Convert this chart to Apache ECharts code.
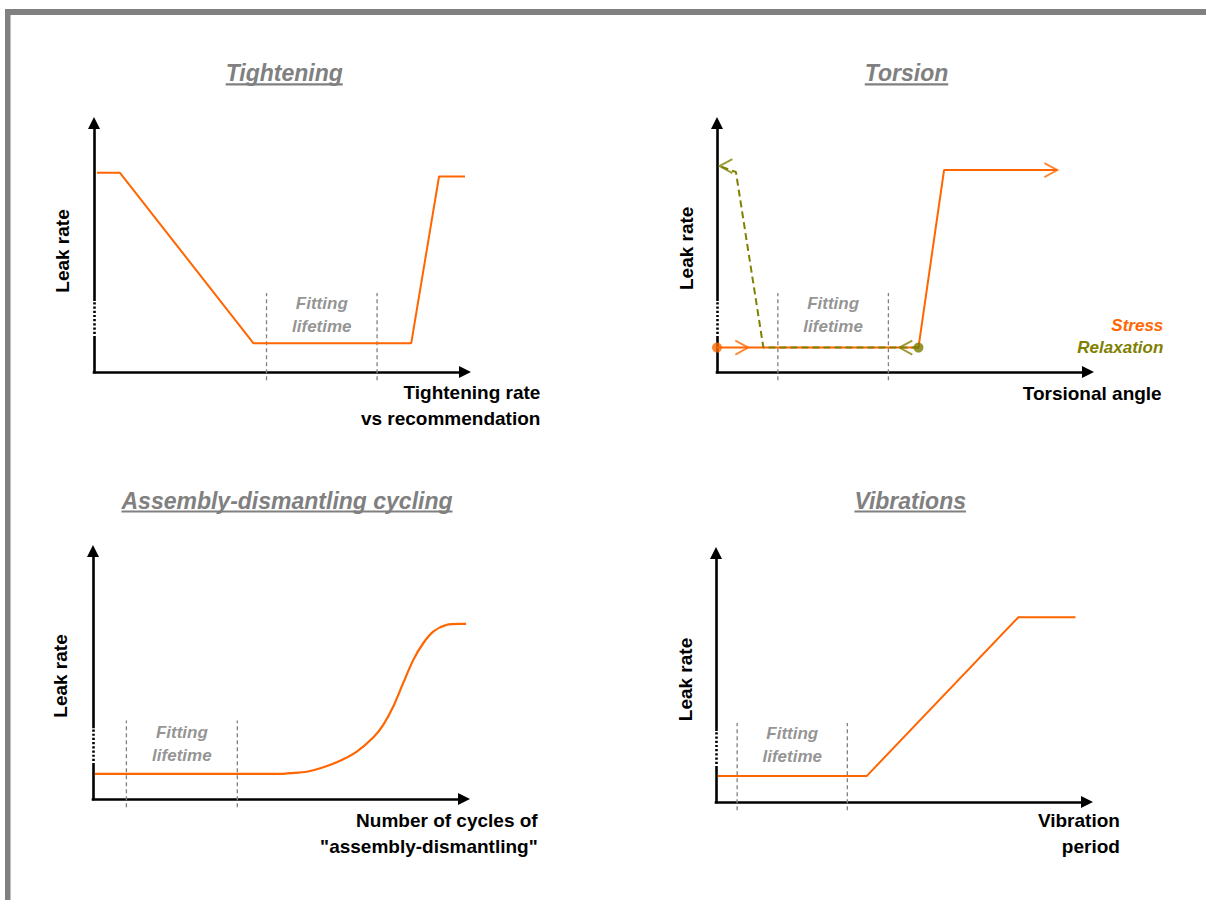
<!DOCTYPE html>
<html>
<head>
<meta charset="utf-8">
<script src="https://cdn.jsdelivr.net/npm/echarts@6.0.0/dist/echarts.min.js"></script>
<style>
html,body{margin:0;padding:0;background:#ffffff;}
#chart{width:1206px;height:900px;}
</style>
</head>
<body>
<div id="chart"></div>
<script>
// ---------- data (units: 0..100 along each schematic axis) ----------
// Panel 1 - Tightening
const tighteningX = [0.8, 7, 43, 85.5, 93, 100];
const tighteningY = [80, 80, 11.5, 11.5, 78.5, 78.5];
const tighteningFit = [46.5, 76.3];

// Panel 2 - Torsion
const stressX = [0, 54.3, 61.2, 91.7];
const stressY = [9.8, 9.8, 81.1, 81.1];
const relaxX = [54.3, 12.5, 5.1, 0.7];
const relaxY = [9.8, 9.8, 80.3, 82.7];
const stressArrowX = [6.7, 90.0];
const stressArrowY = [9.8, 81.1];
const relaxArrowX = [50.9, 2.4];
const relaxArrowY = [9.8, 82.7];
const torsionFit = [16.4, 46.2];

// Panel 3 - Assembly-dismantling cycling
const cyclingX = [0.5, 50.4, 53.1, 57.6, 62.1, 66.6, 71.1, 75.6, 78.2, 80.9, 83.6, 86.3, 89.0, 91.7, 95.3, 98.9, 101.6];
const cyclingY = [10.1, 10.1, 10.4, 11.0, 12.8, 15.4, 19.1, 24.9, 29.8, 37.2, 46.7, 56.0, 62.8, 67.5, 70.2, 70.6, 70.6];
const cyclingFit = [9.0, 38.9];

// Panel 4 - Vibrations
const vibrationX = [0.5, 40.6, 81.5, 96.9];
const vibrationY = [10.4, 10.4, 74.2, 74.2];
const vibrationFit = [5.7, 35.4];

// extent of the dashed "fitting lifetime" limits and of the axis break
const fitLineY = [-3.3, 31.7];
const axisBreakY = [14.5, 28.5];
const fitTextY = [22.9, 22.9, 22.0, 22.9];

// texts
const panelTitles = ['Tightening', 'Torsion', 'Assembly-dismantling cycling', 'Vibrations'];
const xAxisNames = ['Tightening rate\nvs recommendation', 'Torsional angle', 'Number of cycles of\n"assembly-dismantling"', 'Vibration\nperiod'];
const yAxisName = 'Leak rate';
const fitLabel = 'Fitting\nlifetime';
const legendNames = ['Stress', 'Relaxation'];

// ---------- styling / layout ----------
const FONT = '"Liberation Sans", Arial, Helvetica, sans-serif';
const ORANGE = '#ff6600';
const OLIVE = '#808000';
const GRAY = '#808080';
const TEXTGRAY = '#787878';

const grids = [
  {left: 94,  top: 123, width: 371, height: 249},
  {left: 717, top: 123, width: 371, height: 249},
  {left: 93,  top: 551, width: 371, height: 248},
  {left: 716, top: 553, width: 371, height: 249}
];
const titlePos = [[284.2, 73.3, 84.3], [906.5, 73.3, 84.3], [287, 500.8, 511.5], [910.2, 500.8, 511.5]];
const yNamePos = [[62.7, 251], [686.6, 248.3], [60.8, 676], [685, 679.5]];
const xNamePos = [[540.4, 405.5], [1161.7, 393.7], [537.7, 833], [1119.9, 833]];
const legendPos = [[1163.3, 325], [1163.3, 347.8]];

const chevRight = 'path://M0,0L12,7L0,14';
const chevLeft = 'path://M12,0L0,7L12,14';

function pairs(xs, ys) { return xs.map((x, i) => [x, ys[i]]); }

const axisCommon = {
  type: 'value', min: 0, max: 100,
  axisLine: {show: true, onZero: true, symbol: ['none', 'triangle'], symbolSize: [12, 12],
             lineStyle: {color: '#000', width: 2.6, cap: 'square'}},
  axisTick: {show: false}, axisLabel: {show: false}, splitLine: {show: false}
};

const xAxes = grids.map((g, i) => Object.assign({gridIndex: i}, JSON.parse(JSON.stringify(axisCommon))));
const yAxes = grids.map((g, i) => Object.assign({gridIndex: i}, JSON.parse(JSON.stringify(axisCommon))));

const series = [];
function lineSeries(i, data, color, width, type, z) {
  series.push({
    type: 'line', xAxisIndex: i, yAxisIndex: i, data: data, symbol: 'none', clip: false,
    silent: true, animation: false, z: z || 2,
    lineStyle: {color: color, width: width, type: type || 'solid'},
    emphasis: {disabled: true}
  });
}

const curves = [
  pairs(tighteningX, tighteningY),
  pairs(stressX, stressY),
  pairs(cyclingX, cyclingY),
  pairs(vibrationX, vibrationY)
];
const fits = [tighteningFit, torsionFit, cyclingFit, vibrationFit];

for (let i = 0; i < 4; i++) {
  // fitting lifetime limits
  fits[i].forEach(fx => lineSeries(i, [[fx, fitLineY[0]], [fx, fitLineY[1]]], GRAY, 1.3, [4, 3], 1));
  // axis break (white dots over the axis line)
  lineSeries(i, [[0, axisBreakY[0]], [0, axisBreakY[1]]], '#ffffff', 4, [2, 2.2], 5);
  // main curve
  if (i === 2) {
    series.push({
      type: 'line', xAxisIndex: i, yAxisIndex: i, data: curves[i], symbol: 'none', clip: false,
      smooth: 0.3, silent: true, animation: false, z: 3,
      lineStyle: {color: ORANGE, width: 2.2}, emphasis: {disabled: true}
    });
  } else {
    lineSeries(i, curves[i], ORANGE, 2, 'solid', 3);
  }
  // fitting lifetime label
  series.push({
    type: 'scatter', xAxisIndex: i, yAxisIndex: i, silent: true, animation: false,
    data: [[(fits[i][0] + fits[i][1]) / 2, fitTextY[i]]],
    symbolSize: 1, itemStyle: {color: 'rgba(0,0,0,0)'}, z: 4,
    label: {show: true, position: 'inside', formatter: fitLabel, color: TEXTGRAY,
            fontSize: 17, fontWeight: 'bold', fontStyle: 'italic', fontFamily: FONT,
            lineHeight: 23, align: 'center', verticalAlign: 'middle'},
    emphasis: {disabled: true}
  });
}

// Torsion: relaxation path (dashed, olive) on top of the stress path
lineSeries(1, pairs(relaxX, relaxY), OLIVE, 2, [7, 4], 4);

// markers for the torsion panel
series.push({
  type: 'scatter', xAxisIndex: 1, yAxisIndex: 1, silent: true, animation: false, z: 6,
  data: [
    {value: [stressX[0], stressY[0]], symbol: 'circle', symbolSize: 10, itemStyle: {color: ORANGE}},
    {value: [stressArrowX[0], stressArrowY[0]], symbol: chevRight, symbolSize: [13, 14],
     itemStyle: {color: 'none', borderColor: ORANGE, borderWidth: 1.8}},
    {value: [stressArrowX[1], stressArrowY[1]], symbol: chevRight, symbolSize: [13, 14],
     itemStyle: {color: 'none', borderColor: ORANGE, borderWidth: 1.8}},
    {value: [relaxX[0], relaxY[0]], symbol: 'circle', symbolSize: 10, itemStyle: {color: '#7a7a00'}},
    {value: [relaxArrowX[0], relaxArrowY[0]], symbol: chevLeft, symbolSize: [13, 14],
     itemStyle: {color: 'none', borderColor: OLIVE, borderWidth: 1.8}},
    {value: [relaxArrowX[1], relaxArrowY[1]], symbol: chevLeft, symbolSize: [13, 14],
     itemStyle: {color: 'none', borderColor: OLIVE, borderWidth: 1.8}}
  ],
  emphasis: {disabled: true}
});

// ---------- texts / frame ----------
const measureCtx = document.createElement('canvas').getContext('2d');
function textWidth(txt, font) { measureCtx.font = font; return measureCtx.measureText(txt).width; }

const graphics = [
  {type: 'rect', shape: {x: 5, y: 9, width: 1201, height: 6}, style: {fill: GRAY}, silent: true},
  {type: 'rect', shape: {x: 5, y: 9, width: 5.5, height: 891}, style: {fill: GRAY}, silent: true}
];
panelTitles.forEach((t, i) => {
  const p = titlePos[i];
  graphics.push({type: 'text', x: p[0], y: p[1], silent: true,
    style: {text: t, fill: GRAY, fontSize: 23, fontWeight: 'bold', fontStyle: 'italic', fontFamily: FONT,
            align: 'center', verticalAlign: 'middle'}});
  const w = textWidth(t, 'italic bold 23px ' + FONT);
  graphics.push({type: 'line', silent: true,
    shape: {x1: p[0] - w / 2, y1: p[2], x2: p[0] + w / 2, y2: p[2]},
    style: {stroke: GRAY, lineWidth: 2.2}});
});
yNamePos.forEach(p => {
  graphics.push({type: 'text', x: p[0], y: p[1], rotation: Math.PI / 2, silent: true,
    style: {text: yAxisName, fill: '#000', fontSize: 19, fontWeight: 'bold', fontFamily: FONT,
            align: 'center', verticalAlign: 'middle'}});
});
xAxisNames.forEach((t, i) => {
  const p = xNamePos[i];
  graphics.push({type: 'text', x: p[0], y: p[1], silent: true,
    style: {text: t, fill: '#000', fontSize: 19, fontWeight: 'bold', fontFamily: FONT,
            align: 'right', verticalAlign: 'middle', lineHeight: 26}});
});
legendNames.forEach((t, i) => {
  const p = legendPos[i];
  graphics.push({type: 'text', x: p[0], y: p[1], silent: true,
    style: {text: t, fill: i === 0 ? ORANGE : OLIVE, fontSize: 17, fontWeight: 'bold', fontStyle: 'italic',
            fontFamily: FONT, align: 'right', verticalAlign: 'middle'}});
});

const chart = echarts.init(document.getElementById('chart'), null, {renderer: 'svg', width: 1206, height: 900});
chart.setOption({
  backgroundColor: '#ffffff',
  animation: false,
  grid: grids.map(g => Object.assign({outerBoundsMode: 'none', containLabel: false}, g)),
  xAxis: xAxes,
  yAxis: yAxes,
  series: series,
  graphic: {elements: graphics}
});
</script>
</body>
</html>
